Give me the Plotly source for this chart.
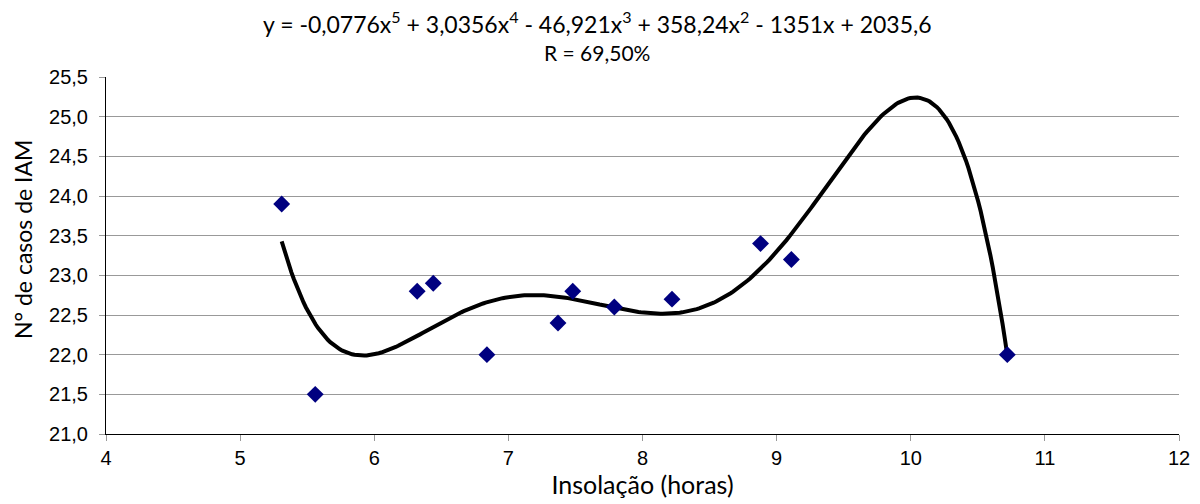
import numpy as np
import plotly.graph_objects as go

insolacao = [5.31, 5.56, 6.32, 6.44, 6.84, 7.37, 7.48, 7.79, 8.22, 8.88, 9.11, 10.72]
casos_iam = [23.9, 21.5, 22.8, 22.9, 22.0, 22.4, 22.8, 22.6, 22.7, 23.4, 23.2, 22.0]
x_ticks = [4, 5, 6, 7, 8, 9, 10, 11, 12]
y_ticks = [21.0, 21.5, 22.0, 22.5, 23.0, 23.5, 24.0, 24.5, 25.0, 25.5]
equation_text = "y = -0,0776x<sup>5</sup> + 3,0356x<sup>4</sup> - 46,921x<sup>3</sup> + 358,24x<sup>2</sup> - 1351x + 2035,6"
r_text = "R = 69,50%"
x_title = "Insolação (horas)"
y_title = "N° de casos de IAM"

# Polynomial trendline (degree 5) fitted to the data points
coef = np.polyfit(insolacao, casos_iam, 5)
xs = np.linspace(min(insolacao), max(insolacao), 300)
ys = np.polyval(coef, xs)

fig = go.Figure()
fig.add_trace(go.Scatter(x=xs, y=ys, mode="lines",
                         line=dict(color="black", width=4),
                         hoverinfo="skip", showlegend=False))
fig.add_trace(go.Scatter(x=insolacao, y=casos_iam, mode="markers",
                         marker=dict(symbol="diamond", size=13, color="#000080"),
                         showlegend=False))

tick_font = dict(family="Liberation Sans, Arial, sans-serif", size=20, color="black")
fig.update_layout(
    width=1200, height=504,
    margin=dict(l=106, r=21, t=77, b=70),
    paper_bgcolor="white", plot_bgcolor="white",
    xaxis=dict(range=[4, 12], tickvals=x_ticks, ticktext=[str(v) for v in x_ticks],
               showgrid=False, zeroline=False, showline=True, linecolor="black", linewidth=1,
               ticks="outside", ticklen=6, tickcolor="#999999", tickfont=tick_font,
               automargin=False,
               title=dict(text=x_title, font=dict(family="Lato, sans-serif", size=25, color="black"),
                          standoff=7)),
    yaxis=dict(range=[21.0, 25.5], tickvals=y_ticks,
               ticktext=[f"{v:.1f}".replace(".", ",") for v in y_ticks],
               showgrid=True, gridcolor="#999999", gridwidth=1, zeroline=False,
               showline=True, linecolor="black", linewidth=1,
               ticks="outside", ticklen=6, tickcolor="#999999", tickfont=tick_font,
               ticklabelstandoff=7, automargin=False),
    annotations=[
        dict(text=equation_text, x=0.4576, y=(434 - 22) / 357, xref="paper", yref="paper",
             xanchor="center", yanchor="middle", showarrow=False,
             font=dict(family="Lato, sans-serif", size=23, color="black")),
        dict(text=r_text, x=0.4576, y=(434 - 52) / 357, xref="paper", yref="paper",
             xanchor="center", yanchor="middle", showarrow=False,
             font=dict(family="Lato, sans-serif", size=21, color="black")),
        dict(text=y_title, x=(23 - 106) / 1073, y=(434 - 240) / 357, xref="paper", yref="paper",
             xanchor="center", yanchor="middle", showarrow=False, textangle=-90,
             font=dict(family="Lato, sans-serif", size=23, color="black")),
    ],
)
fig.write_html("out.html", config={"displayModeBar": False},
               post_script="document.body.style.margin='0';document.body.style.padding='0';")
